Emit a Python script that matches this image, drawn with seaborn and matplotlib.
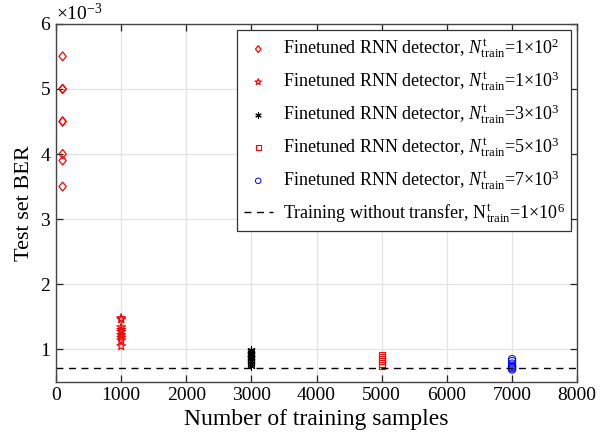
import numpy as np
import pandas as pd
import matplotlib
matplotlib.use("Agg")
import matplotlib.pyplot as plt
import seaborn as sns
from matplotlib.path import Path
from matplotlib.ticker import ScalarFormatter

# values (BER in units of 1e-3)
ber_100 = [5.5, 5.0, 5.0, 4.5, 4.5, 4.0, 3.9, 3.5]
ber_1000 = [1.48, 1.46, 1.34, 1.30, 1.27, 1.22, 1.18, 1.14, 1.05]
ber_3000 = [0.99, 0.97, 0.95, 0.93, 0.91, 0.89, 0.87, 0.85, 0.82, 0.78, 0.74]
ber_5000 = [0.91, 0.88, 0.85, 0.82, 0.78, 0.75]
ber_7000 = [0.85, 0.82, 0.78, 0.75, 0.73, 0.71, 0.69]
samples = [100, 1000, 3000, 5000, 7000]
baseline_ber = 0.71

labels = [
    r'Finetuned RNN detector, $N^{\rm t}_{\rm train}$=1$\times$10$^2$',
    r'Finetuned RNN detector, $N^{\rm t}_{\rm train}$=1$\times$10$^3$',
    r'Finetuned RNN detector, $N^{\rm t}_{\rm train}$=3$\times$10$^3$',
    r'Finetuned RNN detector, $N^{\rm t}_{\rm train}$=5$\times$10$^3$',
    r'Finetuned RNN detector, $N^{\rm t}_{\rm train}$=7$\times$10$^3$',
]
baseline_label = r'Training without transfer, ${\rm N}^{\rm t}_{\rm train}$=1$\times$10$^6$'

all_ber = [ber_100, ber_1000, ber_3000, ber_5000, ber_7000]
rows = []
for n, vals, lab in zip(samples, all_ber, labels):
    for v in vals:
        rows.append({'samples': n, 'ber': v * 1e-3, 'series': lab})
df = pd.DataFrame(rows)

plt.rcParams['font.family'] = ['Liberation Serif', 'DejaVu Serif']
plt.rcParams['mathtext.fontset'] = 'custom'
plt.rcParams['mathtext.rm'] = 'Liberation Serif'
plt.rcParams['mathtext.it'] = 'Liberation Serif:italic'
plt.rcParams['mathtext.bf'] = 'Liberation Serif:bold'

fig = plt.figure(figsize=(6.16, 4.41), dpi=100)
ax = fig.add_axes([0.091, 0.134, 0.846, 0.812])

# matlab-like diamond: a bit taller than wide
diamond = Path([(0, 1), (0.8, 0), (0, -1), (-0.8, 0), (0, 1)],
               [Path.MOVETO, Path.LINETO, Path.LINETO, Path.LINETO, Path.CLOSEPOLY])

styles = [
    dict(marker=diamond, s=42, facecolors='none', edgecolors='red', linewidths=0.9),
    dict(marker='*', s=42, facecolors='none', edgecolors='red', linewidths=0.8),
    dict(marker=(6, 2, 0), s=28, color='black', linewidths=0.8),
    dict(marker='s', s=22, facecolors='none', edgecolors='red', linewidths=0.8),
    dict(marker='o', s=28, facecolors='none', edgecolors='blue', linewidths=0.7),
]
for lab, st in zip(labels, styles):
    sub = df[df['series'] == lab]
    sns.scatterplot(data=sub, x='samples', y='ber', ax=ax, label=lab, legend=False, **st)

ax.axhline(baseline_ber * 1e-3, ls=(0, (5, 4)), color='black', lw=1.0, label=baseline_label)

ax.set_xlim(0, 8000)
ax.set_ylim(0.5e-3, 6e-3)
ax.set_xticks(np.arange(0, 8001, 1000))
ax.set_yticks(np.arange(1, 7) * 1e-3)
fmt = ScalarFormatter(useMathText=True)
fmt.set_powerlimits((-3, -3))
ax.yaxis.set_major_formatter(fmt)
ax.yaxis.get_offset_text().set_fontsize(14)

ax.grid(True, color='#e3e3e3', lw=0.9)
ax.set_axisbelow(True)
for sp in ax.spines.values():
    sp.set_color('#444444')
    sp.set_linewidth(1.0)
ax.tick_params(direction='in', top=True, right=True, labelsize=14, colors='#222222',
               length=5, width=0.9)
ax.tick_params(labelcolor='black')

ax.set_xlabel('Number of training samples', fontsize=17)
ax.set_ylabel('Test set BER', fontsize=16)

leg = ax.legend(loc='upper right', fontsize=13.0, frameon=True, fancybox=False,
                framealpha=1, edgecolor='#333333', handlelength=1.6,
                handletextpad=0.55, markerscale=0.75, labelspacing=0.5,
                borderaxespad=0.35, borderpad=0.35)
leg.get_frame().set_linewidth(0.9)

fig.savefig('out.png', dpi=100)
